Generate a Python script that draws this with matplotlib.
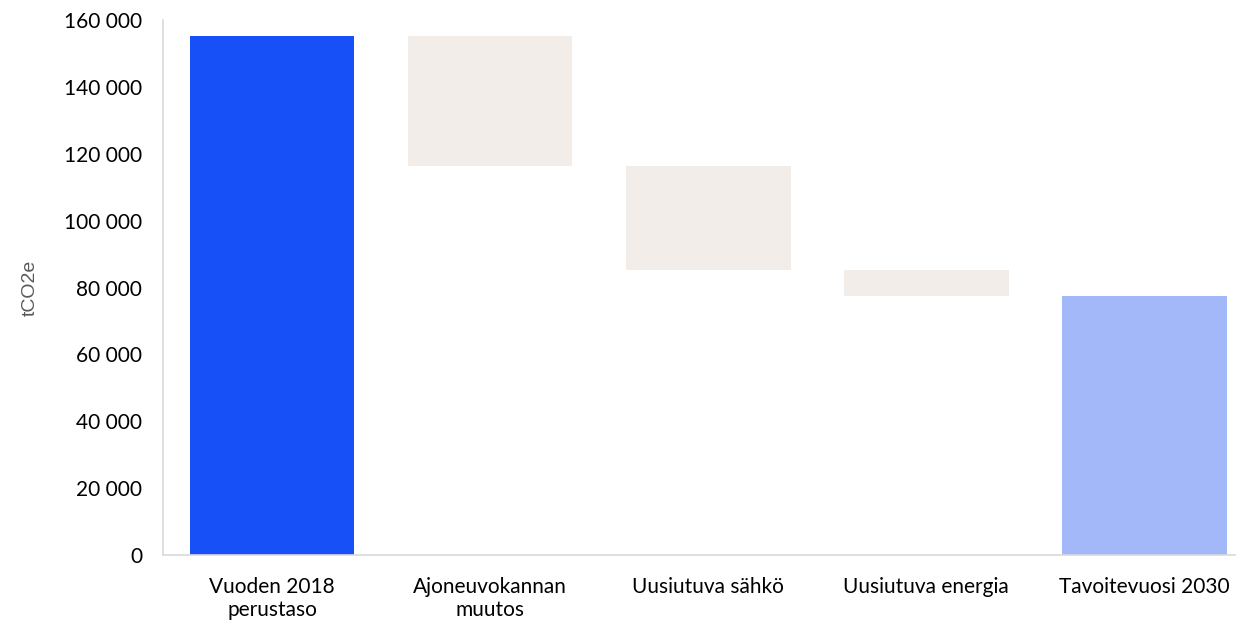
import numpy as np
import matplotlib.pyplot as plt
from matplotlib.ticker import FuncFormatter

categories = ["Vuoden 2018\nperustaso", "Ajoneuvokannan\nmuutos", "Uusiutuva sähkö",
              "Uusiutuva energia", "Tavoitevuosi 2030"]
baseline = 155200
reductions = [38800, 31100, 7800]
target = 77500

plt.rcParams["font.family"] = ["Lato", "DejaVu Sans"]

# waterfall: floating bars for the reductions
tops = baseline - np.concatenate([[0], np.cumsum(reductions)[:-1]])
bottoms = tops - np.array(reductions)

fig = plt.figure(figsize=(12.36, 6.22), dpi=100)
ax = fig.add_axes([0.1319, 0.1077, 0.8681, 0.8601])

x = np.arange(len(categories))
w = 0.755
ax.bar(x[0], baseline, width=w, color="#1750F7")
ax.bar(x[1:4], np.array(reductions), bottom=bottoms, width=w, color="#F2EDE9")
ax.bar(x[4], target, width=w, color="#A2B8F9")

ax.set_xlim(-0.5, 4.42)
ax.set_ylim(0, 160000)
ax.set_yticks(np.arange(0, 160001, 20000))
ax.yaxis.set_major_formatter(FuncFormatter(lambda v, p: f"{int(v):,}".replace(",", " ")))
ax.set_xticks(x)
ax.set_xticklabels(categories)
ax.tick_params(axis="y", length=0, pad=15, labelsize=15, labelcolor="black")
ax.tick_params(axis="x", length=0, pad=16, labelsize=15, labelcolor="black")
ax.set_ylabel("tCO2e", fontsize=14, color="#595959", labelpad=18, family="Liberation Sans")

for side in ["top", "right"]:
    ax.spines[side].set_visible(False)
ax.spines["left"].set_color("#D9D9D9")
ax.spines["bottom"].set_color("#D9D9D9")
ax.spines["left"].set_linewidth(1.2)
ax.spines["bottom"].set_linewidth(1.2)

fig.savefig("out.png", dpi=100)
